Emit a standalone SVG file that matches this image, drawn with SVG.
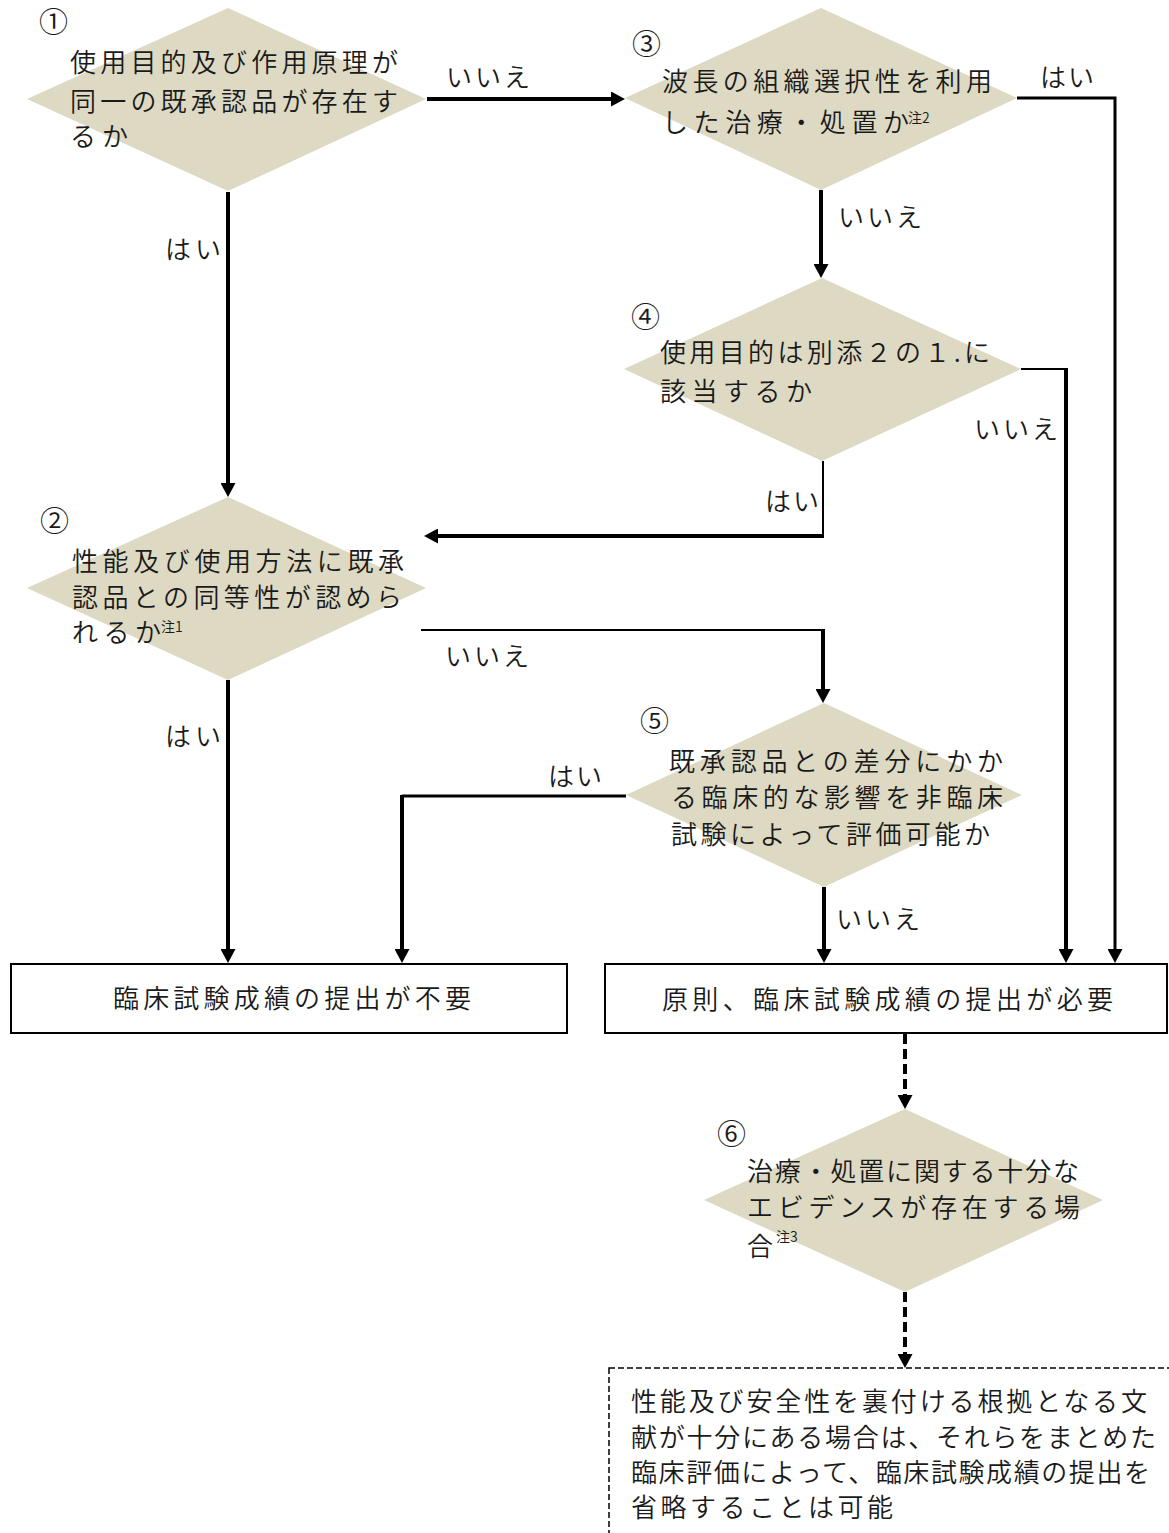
<svg xmlns="http://www.w3.org/2000/svg" width="1169" height="1533" viewBox="0 0 1169 1533">
<style>
  text { font-family: "Noto Sans CJK JP", "Liberation Serif", sans-serif; font-size: 26px; fill: #1a1a1a; font-weight: 350; }
  .sup { font-size: 14px; }
  .num { font-size: 29px; }
  .dia { fill: #DDD9C3; stroke: none; }
  .box { fill: #ffffff; stroke: #000; stroke-width: 2; }
  .dbox { fill: #ffffff; stroke: #000; stroke-width: 1.5; stroke-dasharray: 6 3; }
  .c { fill: none; stroke: #000; stroke-linejoin: miter; }
  .w4 { stroke-width: 4; }
  .w3 { stroke-width: 3; }
  .w2 { stroke-width: 2; }
  .dash { stroke-dasharray: 10 5; }
  .arr { marker-end: url(#ah); }
</style>
<defs>
  <marker id="ah" markerUnits="userSpaceOnUse" markerWidth="14" markerHeight="15" viewBox="0 0 14 15" refX="6" refY="7.5" orient="auto">
    <path d="M0,0 L14,7.5 L0,15 z" fill="#000"/>
  </marker>
</defs>
<rect width="1169" height="1533" fill="#ffffff"/>

<g id="connectors">
  <path class="c w4 arr" d="M427,99 H617"/>
  <path class="c w3 arr" d="M1017,98 H1115 V955"/>
  <path class="c w4 arr" d="M821,190 V270"/>
  <path class="c w2" d="M1021,369 H1066"/>
  <path class="c w4 arr" d="M1066,368 V955"/>
  <path class="c w2" d="M823,461 V536"/>
  <path class="c w4 arr" d="M824,536 H432"/>
  <path class="c w4 arr" d="M228,192 V489"/>
  <path class="c w2" d="M421,630 H823"/>
  <path class="c w4 arr" d="M823,629 V695"/>
  <path class="c w4 arr" d="M228,680 V955"/>
  <path class="c w3" d="M626,796 H402"/>
  <path class="c w4 arr" d="M402,795 V955"/>
  <path class="c w4 arr" d="M824,887 V955"/>
  <path class="c w4 dash arr" d="M905,1034 V1101"/>
  <path class="c w4 dash arr" d="M905,1292 V1360"/>
  <text x="446" y="87" textLength="84" lengthAdjust="spacing">いいえ</text>
  <text x="1040" y="87" textLength="54" lengthAdjust="spacing">はい</text>
  <text x="838" y="227" textLength="84" lengthAdjust="spacing">いいえ</text>
  <text x="165" y="259" textLength="56" lengthAdjust="spacing">はい</text>
  <text x="974" y="439" textLength="84" lengthAdjust="spacing">いいえ</text>
  <text x="765" y="511" textLength="54" lengthAdjust="spacing">はい</text>
  <text x="445" y="666" textLength="84" lengthAdjust="spacing">いいえ</text>
  <text x="165" y="746" textLength="56" lengthAdjust="spacing">はい</text>
  <text x="548" y="786" textLength="54" lengthAdjust="spacing">はい</text>
  <text x="836" y="929" textLength="84" lengthAdjust="spacing">いいえ</text>
</g>

<g id="node1">
  <polygon class="dia" points="228,8 426,99 228,191 27,99"/>
  <text class="num" x="39" y="33">①</text>
  <text x="70" y="72" textLength="328" lengthAdjust="spacing">使用目的及び作用原理が</text>
  <text x="70" y="111" textLength="328" lengthAdjust="spacing">同一の既承認品が存在す</text>
  <text x="70" y="146" textLength="58" lengthAdjust="spacing">るか</text>
</g>

<g id="node3">
  <polygon class="dia" points="821,8 1017,98 821,190 625,98"/>
  <text class="num" x="632" y="55">③</text>
  <text x="662" y="91" textLength="330" lengthAdjust="spacing">波長の組織選択性を利用</text>
  <text x="662" y="132" textLength="247" lengthAdjust="spacing">した治療・処置か</text>
  <text class="sup" x="908" y="123">注2</text>
</g>

<g id="node4">
  <polygon class="dia" points="822,278 1021,369 822,461 624,369"/>
  <text class="num" x="631" y="328">④</text>
  <text x="660" y="362" textLength="330" lengthAdjust="spacing">使用目的は別添２の１.に</text>
  <text x="660" y="401" textLength="152" lengthAdjust="spacing">該当するか</text>
</g>

<g id="node2">
  <polygon class="dia" points="228,497 426,588 228,680 27,588"/>
  <text class="num" x="40" y="532">②</text>
  <text x="72" y="571" textLength="332" lengthAdjust="spacing">性能及び使用方法に既承</text>
  <text x="72" y="607" textLength="330" lengthAdjust="spacing">認品との同等性が認めら</text>
  <text x="72" y="642" textLength="89" lengthAdjust="spacing">れるか</text>
  <text class="sup" x="161" y="632">注1</text>
</g>

<g id="node5">
  <polygon class="dia" points="824,703 1022,795 824,887 626,795"/>
  <text class="num" x="640" y="732">⑤</text>
  <text x="669" y="771" textLength="334" lengthAdjust="spacing">既承認品との差分にかか</text>
  <text x="671" y="807" textLength="332" lengthAdjust="spacing">る臨床的な影響を非臨床</text>
  <text x="671" y="844" textLength="319" lengthAdjust="spacing">試験によって評価可能か</text>
</g>

<g id="box-left">
  <rect class="box" x="11" y="964" width="556" height="69"/>
  <text x="113" y="1008" textLength="358" lengthAdjust="spacing">臨床試験成績の提出が不要</text>
</g>

<g id="box-right">
  <rect class="box" x="605" y="964" width="562" height="69"/>
  <text x="662" y="1009" textLength="451" lengthAdjust="spacing">原則、臨床試験成績の提出が必要</text>
</g>

<g id="node6">
  <polygon class="dia" points="905,1109 1103,1200 905,1292 704,1200"/>
  <text class="num" x="717" y="1145">⑥</text>
  <text x="747" y="1181" textLength="332" lengthAdjust="spacing">治療・処置に関する十分な</text>
  <text x="747" y="1217" textLength="333" lengthAdjust="spacing">エビデンスが存在する場</text>
  <text x="747" y="1256">合</text>
  <text class="sup" x="776" y="1242">注3</text>
</g>

<g id="box-dashed">
  <rect class="dbox" x="609" y="1368" width="620" height="220"/>
  <text x="631" y="1411" textLength="516" lengthAdjust="spacing">性能及び安全性を裏付ける根拠となる文</text>
  <text x="631" y="1447" textLength="525" lengthAdjust="spacing">献が十分にある場合は、それらをまとめた</text>
  <text x="631" y="1482" textLength="519" lengthAdjust="spacing">臨床評価によって、臨床試験成績の提出を</text>
  <text x="631" y="1517" textLength="262" lengthAdjust="spacing">省略することは可能</text>
</g>
</svg>
